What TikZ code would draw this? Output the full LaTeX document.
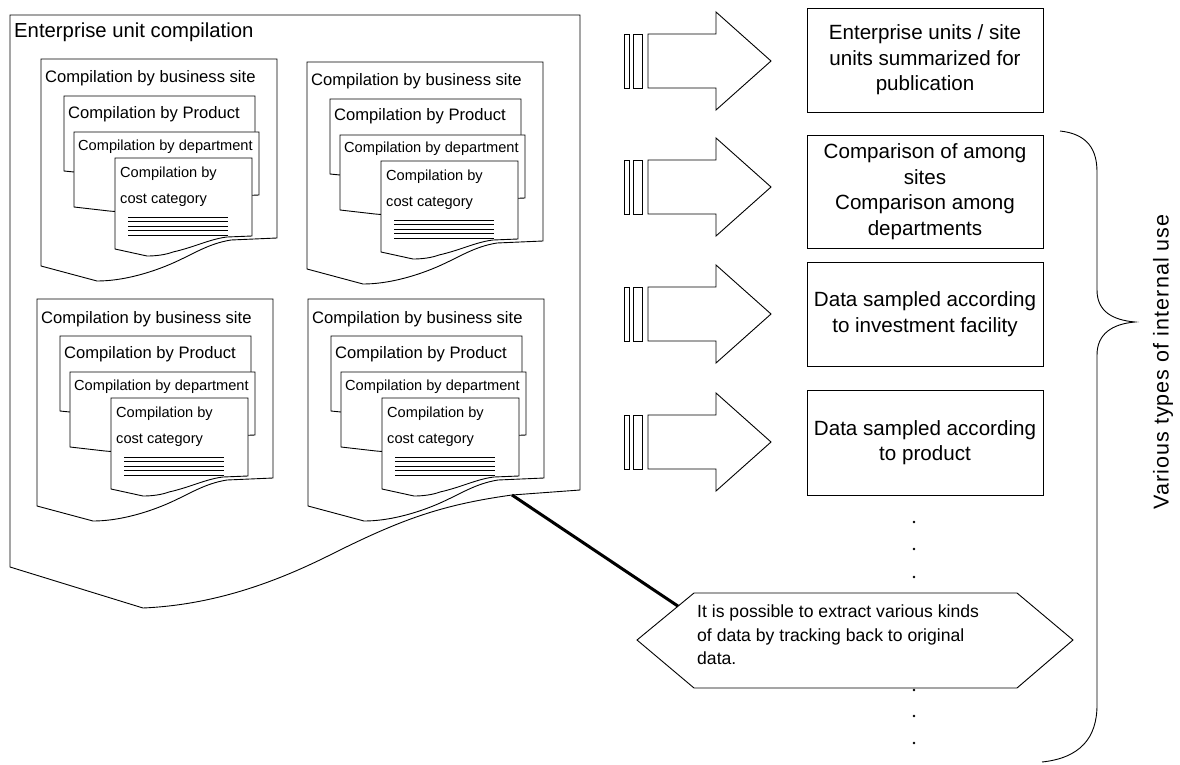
\documentclass[tikz,border=0pt]{standalone}
\usepackage{fontspec}
\setmainfont{Liberation Sans}
\newfontfamily\widesans[LetterSpace=5]{Liberation Sans}
\usetikzlibrary{calc}

\tikzset{
  ln/.style={line width=0.9pt, line join=miter},
  paper/.style={ln, fill=white},
  lbl/.style={inner sep=0pt, anchor=base west},
  fsite/.style={font=\fontsize{16.6}{18}\selectfont},
  fdept/.style={font=\fontsize{14.6}{16}\selectfont},
  fbox/.style={font=\fontsize{20.6}{25.5}\selectfont},
  resultbox/.style={ln, draw, minimum width=236pt, align=center, inner sep=0pt, fbox},
  stripe/.style={ln, fill=white},
}

% One "compilation by business site" sheet with its stacked sub-sheets.
% #1,#2: top-left corner, #3: name prefix
\newcommand\siteblock[3]{%
\begin{scope}[shift={(#1,#2)}]
  \draw[paper] (0,0) -- (236,0) -- (236,179) -- (190,181)
    .. controls (165,185) and (150,197) .. (125,207)
    .. controls (105,215) and (80,222) .. (56,222) -- (0,207) -- cycle;
  \node[lbl, fsite] (#3-site) at (4,24) {Compilation by business site};
  \begin{scope}[shift={(23,37)}]
    \draw[paper] (0,0) -- (191,0) -- (191,62) -- (150,64)
      .. controls (120,70) and (90,78) .. (50,80) -- (0,75) -- cycle;
    \node[lbl, fsite] (#3-prod) at (4,22) {Compilation by Product};
  \end{scope}
  \begin{scope}[shift={(33,73)}]
    \draw[paper] (0,0) -- (185,0) -- (185,63) -- (160,64)
      .. controls (140,66) and (120,72) .. (80,78)
      .. controls (60,80) and (45,80) .. (35,79) -- (0,75) -- cycle;
    \node[lbl, fdept] (#3-dept) at (4,18) {Compilation by department};
  \end{scope}
  \begin{scope}[shift={(74,99)}]
    \draw[paper] (0,0) -- (137,0) -- (137,78) -- (112,79)
      .. controls (95,81) and (80,89) .. (58,94)
      .. controls (50,97) and (40,98) .. (32,98) -- (0,91) -- cycle;
    \node[lbl, fdept] (#3-cost1) at (5,19) {Compilation by};
    \node[lbl, fdept] (#3-cost2) at (5,45) {cost category};
    \foreach \yy in {59,63.5,68,72.5,77}
      \draw[line width=0.9pt] (13,\yy) -- (113,\yy);
  \end{scope}
\end{scope}}

% Striped block arrow centred at height #1
\newcommand\blockarrow[2]{%
  \draw[stripe] (624,#1-27) rectangle (629,#1+27);
  \draw[stripe] (633,#1-27) rectangle (642,#1+27);
  \draw[paper] (648,#1-27) -- (716,#1-27) -- (716,#1-49) -- (771,#1)
    -- (716,#1+49) -- (716,#1+27) -- (648,#1+27) -- cycle;
  \coordinate (#2) at (771,#1);
}

\begin{document}
\begin{tikzpicture}[x=1pt, y=-1pt]
\useasboundingbox (0,0) rectangle (1180,765);

% enterprise-level sheet
\draw[paper] (10,15) -- (580,15) -- (580,490) -- (512,495)
  .. controls (440,505) and (400,520) .. (330,555)
  .. controls (270,585) and (210,605) .. (143,608) -- (10,567) -- cycle;
\coordinate (ent-foot) at (512,495);
\node[lbl, font=\fontsize{20.3}{22}\selectfont] (ent-title) at (14,38) {Enterprise unit compilation};

\siteblock{41}{59}{s1}
\siteblock{307}{62}{s2}
\siteblock{37}{299}{s3}
\siteblock{308}{299}{s4}

% arrows
\blockarrow{61}{a1}
\blockarrow{187}{a2}
\blockarrow{314}{a3}
\blockarrow{442}{a4}

% result boxes
\node[resultbox, minimum height=104pt] (r1) at (925,60)
  {Enterprise units / site\\units summarized for\\publication};
\node[resultbox, minimum height=113pt] (r2) at (925,191.5)
  {Comparison of among\\sites\\Comparison among\\departments};
\node[resultbox, minimum height=104pt] (r3) at (925,314)
  {Data sampled according\\to investment facility};
\node[resultbox, minimum height=105pt] (r4) at (925,442.5)
  {Data sampled according\\to product};

% continuation dots
\foreach \yy in {522,549,577,690,716,743}
  \fill (914,\yy) circle (1.4);

% callout
\coordinate (hx-l) at (637,640);
\coordinate (hx-tl) at (694,593);
\coordinate (hx-tr) at (1017,593);
\coordinate (hx-r) at (1073,640);
\coordinate (hx-br) at (1017,688);
\coordinate (hx-bl) at (694,688);
\draw[paper] (hx-l) -- (hx-tl) -- (hx-tr) -- (hx-r) -- (hx-br) -- (hx-bl) -- cycle;
\node[anchor=north west, inner sep=0pt, align=left,
      font=\fontsize{17.6}{23.5}\selectfont] (note) at (697,605)
  {It is possible to extract various kinds\\of data by tracking back to original\\data.};
\coordinate (hx-hook) at ($(hx-l)!0.72!(hx-tl)$);
\draw[line width=3pt] (ent-foot) -- (hx-hook);

% brace grouping the internal uses
\draw[ln] (1060,131) .. controls (1088,134) and (1097,150) .. (1097,172)
  -- (1097,290) .. controls (1097,311) and (1112,320) .. (1135,322)
  .. controls (1112,324) and (1097,334) .. (1097,355)
  -- (1097,705) .. controls (1097,738) and (1080,758) .. (1042,762);
\node[rotate=90, font=\widesans\fontsize{21.5}{23}\selectfont, inner sep=0pt] (usage) at (1163,362)
  {Various types of internal use};
\end{tikzpicture}
\end{document}
